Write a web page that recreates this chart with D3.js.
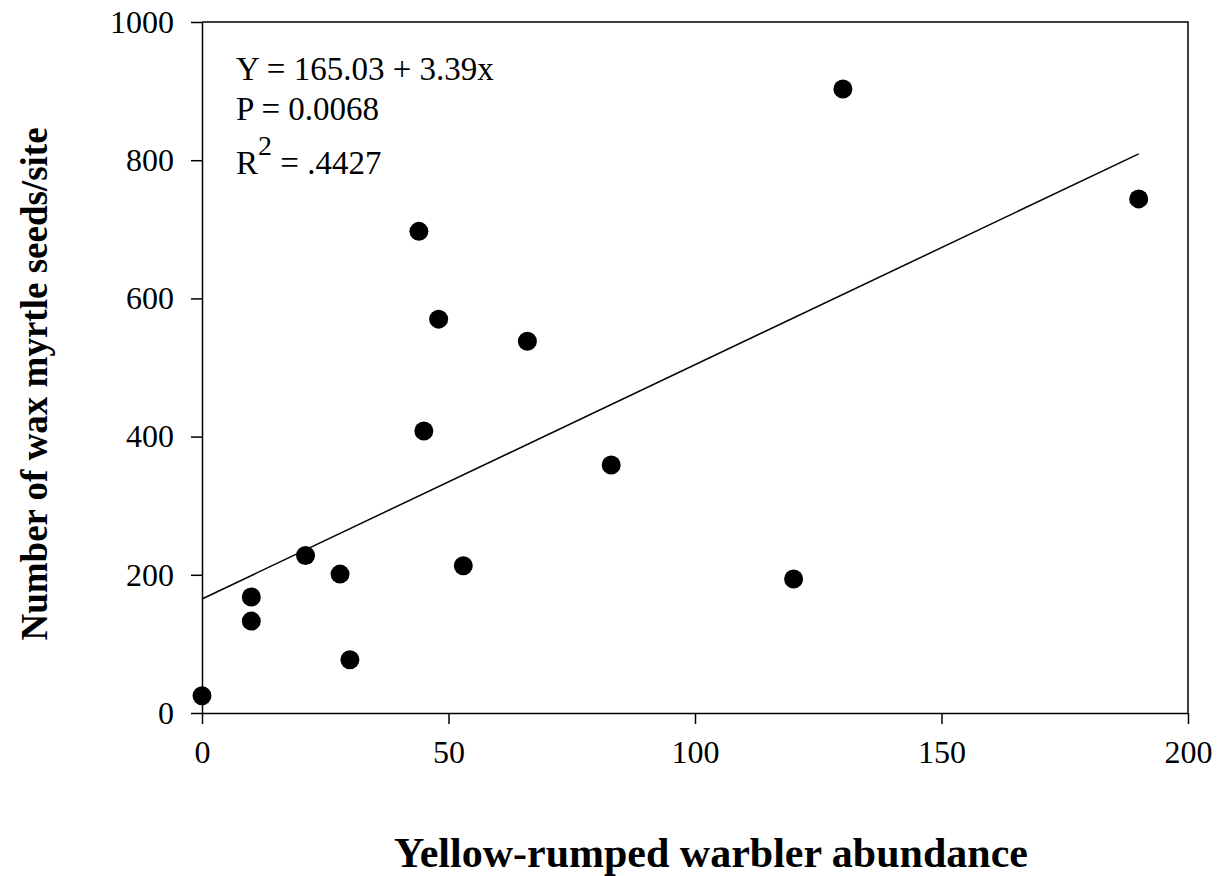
<!DOCTYPE html>
<head>
    <style>
    body { margin: 0; background: #fff; }
    text { font-family: "Liberation Serif", "Times New Roman", serif; fill: #000; }
    .axis text { font-size: 32px; font-family: "Liberation Serif", "Times New Roman", serif; }
    .axis path, .axis line { stroke: #000; stroke-width: 1.5px; }
    .title { font-weight: bold; }
    .note { font-size: 33px; }
    .frame { fill: none; stroke: #000; stroke-width: 1.5px; }
    </style>
    <script src="https://d3js.org/d3.v7.min.js"></script>
</head>
<body>
    <svg width="1226" height="876"></svg>
    <script>

    // warbler abundance vs seeds per site
    var warblers = [0, 10, 10, 21, 28, 30, 44, 45, 48, 53, 66, 83, 120, 130, 190];
    var seeds    = [25, 168, 133, 228, 201, 77, 697, 408, 570, 213, 538, 359, 194, 903, 744];

    var xTicks = [0, 50, 100, 150, 200];
    var yTicks = [0, 200, 400, 600, 800, 1000];

    // fitted line
    var intercept = 165.03, slope = 3.39;
    var fitRange = [0, 190];

    var svg = d3.select("svg"),
        x0 = 202, x1 = 1188, y0 = 713, y1 = 22;

    var x = d3.scaleLinear().domain([0, 200]).range([x0, x1]);
    var y = d3.scaleLinear().domain([0, 1000]).range([y0, y1]);

    svg.append("g")
        .attr("class", "axis")
        .attr("transform", "translate(0," + y0 + ")")
        .call(d3.axisBottom(x).tickValues(xTicks).tickFormat(d3.format("d"))
            .tickSize(11).tickSizeOuter(0).tickPadding(16));

    svg.append("g")
        .attr("class", "axis")
        .attr("transform", "translate(" + x0 + ",0)")
        .call(d3.axisLeft(y).tickValues(yTicks).tickFormat(d3.format("d"))
            .tickSize(11).tickSizeOuter(0).tickPadding(17));

    svg.selectAll(".axis text").attr("fill", "#000");

    // top and right sides of the frame
    svg.append("path")
        .attr("class", "frame")
        .attr("d", "M" + x0 + "," + y1 + "H" + x1 + "V" + y0);

    svg.append("line")
        .attr("class", "frame")
        .attr("x1", x(fitRange[0])).attr("y1", y(intercept + slope * fitRange[0]))
        .attr("x2", x(fitRange[1])).attr("y2", y(intercept + slope * fitRange[1]));

    svg.append("g")
      .selectAll("circle")
      .data(warblers)
      .enter().append("circle")
        .attr("cx", function(d) { return x(d); })
        .attr("cy", function(d, i) { return y(seeds[i]); })
        .attr("r", 9.5)
        .attr("fill", "#000");

    var note = svg.append("g").attr("class", "note");
    note.append("text").attr("x", 236).attr("y", 80).text("Y = 165.03 + 3.39x");
    note.append("text").attr("x", 236).attr("y", 120).text("P = 0.0068");
    var r2 = note.append("text").attr("x", 236).attr("y", 174);
    r2.append("tspan").text("R");
    r2.append("tspan").attr("dy", -19).style("font-size", "28px").text("2");
    r2.append("tspan").attr("dy", 19).text(" = .4427");

    svg.append("text")
        .attr("class", "title")
        .style("font-size", "42px")
        .attr("x", 711)
        .attr("y", 867)
        .attr("text-anchor", "middle")
        .text("Yellow-rumped warbler abundance");

    svg.append("text")
        .attr("class", "title")
        .style("font-size", "37px")
        .attr("transform", "translate(47,384) rotate(-90)")
        .attr("text-anchor", "middle")
        .text("Number of wax myrtle seeds/site");

    </script>
</body>
